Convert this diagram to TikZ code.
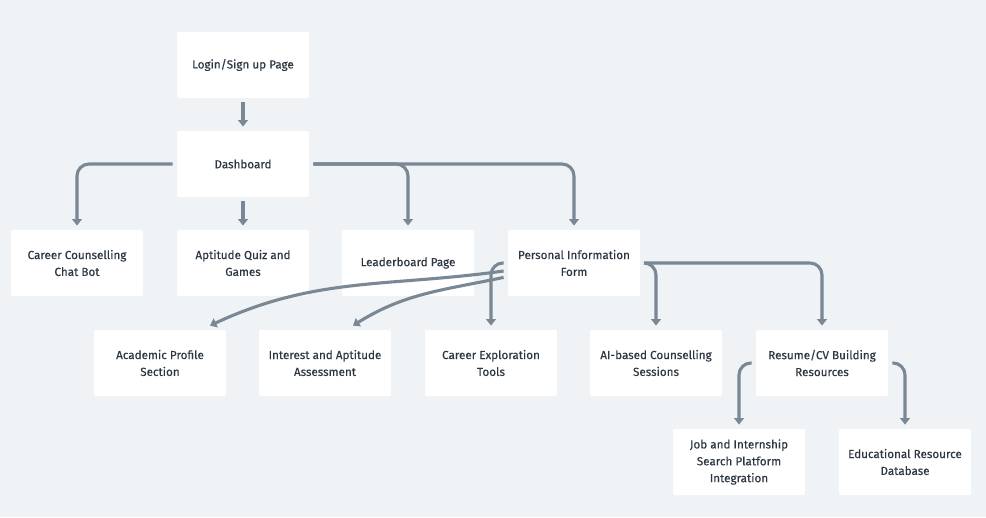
\documentclass[tikz,border=0pt]{standalone}
\usepackage{xcolor}
\usepackage{fontspec}
\setmainfont{Fira Sans}
\newfontfamily\pagefont{Fira Sans}[FakeBold=0.35]
\usepackage{tikz}
\usetikzlibrary{arrows.meta, positioning, calc}
\definecolor{bgcolor}{RGB}{240,243,246}
\definecolor{linkcolor}{RGB}{122,135,148}
\definecolor{textcolor}{RGB}{45,55,66}

\begin{document}
\begin{tikzpicture}[
    page/.style={fill=white, rounded corners=1.5pt, minimum width=3.3cm, minimum height=1.65cm, outer sep=0.11cm, font=\pagefont\fontsize{8.3}{12}\selectfont, text=textcolor, align=center},
    link/.style={draw=linkcolor, line width=2.2pt, rounded corners=0.3cm, -{Triangle[width=0.24cm, length=0.16cm]}}
]
    % Background
    \fill[bgcolor] (0,0) rectangle (24.65,12.925);
    \useasboundingbox (0,0) rectangle (24.65,12.925);

    % Entry pages
    \node[page] (login) at (6.075,11.3) {Login/Sign up Page};
    \node[page] (dash) at (6.075,8.825) {Dashboard};

    % Pages under Dashboard
    \node[page] (chat) at (1.925,6.35) {Career Counselling\\Chat Bot};
    \node[page] (quiz) at (6.075,6.35) {Aptitude Quiz and\\Games};
    \node[page] (board) at (10.2,6.35) {Leaderboard Page};
    \node[page] (info) at (14.35,6.35) {Personal Information\\Form};

    % Pages under Personal Information Form
    \node[page] (acad) at (4.0,3.85) {Academic Profile\\Section};
    \node[page] (assess) at (8.125,3.85) {Interest and Aptitude\\Assessment};
    \node[page] (explore) at (12.275,3.85) {Career Exploration\\Tools};
    \node[page] (ai) at (16.4,3.85) {AI-based Counselling\\Sessions};
    \node[page] (resume) at (20.55,3.85) {Resume/CV Building\\Resources};

    % Pages under Resume/CV
    \node[page] (job) at (18.475,1.375) {Job and Internship\\Search Platform\\Integration};
    \node[page] (edu) at (22.625,1.375) {Educational Resource\\Database};

    % Connections
    \draw[link] (login) -- (dash);
    \draw[link] (dash) -- (quiz);
    \draw[link] (dash.west) -| (chat.north);
    \draw[link] (dash.east) -| (board.north);
    \draw[link] (dash.east) -| (info.north);
    \draw[link] (info.west) -| (explore.north);
    \draw[link] ([yshift=-0.2cm]info.west) to[out=188, in=25] ([xshift=1.25cm]acad.north);
    \draw[link] ([yshift=-0.36cm]info.west) to[out=192, in=32] ([xshift=0.7cm]assess.north);
    \draw[link] (info.east) -| (ai.north);
    \draw[link] (info.east) -| (resume.north);
    \draw[link] (resume.west) -| (job.north);
    \draw[link] (resume.east) -| (edu.north);
\end{tikzpicture}
\end{document}
